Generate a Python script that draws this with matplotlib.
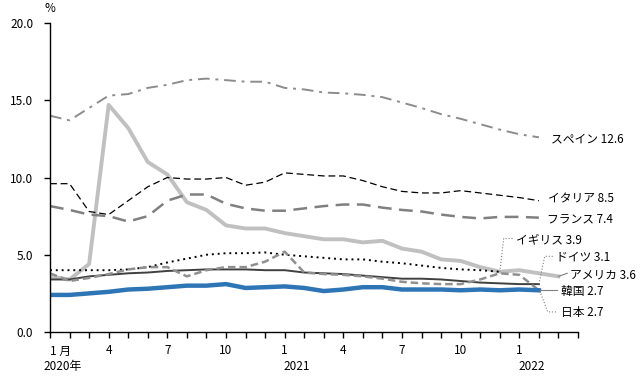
import matplotlib
matplotlib.use("Agg")
import matplotlib.pyplot as plt

plt.rcParams['font.family'] = ['Noto Sans CJK JP', 'DejaVu Sans']
plt.rcParams['font.size'] = 8.5

# 月次（2020年1月 = 0）
spain = [14.0, 13.7, 14.5, 15.3, 15.4, 15.8, 16.0, 16.3, 16.4, 16.3, 16.2, 16.2, 15.8,
         15.7, 15.5, 15.45, 15.35, 15.2, 14.85, 14.5, 14.1, 13.8, 13.45, 13.1, 12.8, 12.6]
italy = [9.6, 9.6, 7.8, 7.6, 8.5, 9.4, 10.0, 9.9, 9.9, 10.0, 9.5, 9.7, 10.3,
         10.2, 10.1, 10.1, 9.8, 9.4, 9.1, 9.0, 9.0, 9.15, 9.0, 8.85, 8.7, 8.5]
france = [8.15, 7.9, 7.6, 7.5, 7.15, 7.5, 8.5, 8.9, 8.9, 8.3, 8.0, 7.85, 7.85,
          8.0, 8.15, 8.25, 8.25, 8.05, 7.9, 7.8, 7.6, 7.45, 7.35, 7.45, 7.45, 7.4]
usa = [3.6, 3.4, 4.4, 14.7, 13.2, 11.0, 10.2, 8.4, 7.9, 6.9, 6.7, 6.7, 6.4,
       6.2, 6.0, 6.0, 5.8, 5.9, 5.4, 5.2, 4.7, 4.6, 4.2, 3.9, 4.0, 3.8, 3.6]
uk = [4.0, 4.0, 4.0, 4.0, 4.05, 4.2, 4.5, 4.75, 5.0, 5.1, 5.1, 5.15, 5.0,
      4.9, 4.8, 4.7, 4.7, 4.55, 4.45, 4.3, 4.15, 4.05, 4.0, 3.9]
germany = [3.4, 3.4, 3.6, 3.7, 3.8, 3.85, 3.95, 4.0, 4.05, 4.05, 4.05, 4.0, 4.0,
           3.85, 3.8, 3.75, 3.65, 3.55, 3.45, 3.45, 3.4, 3.3, 3.2, 3.15, 3.1, 3.1]
korea = [3.8, 3.3, 3.5, 3.75, 4.05, 4.2, 4.2, 3.6, 4.0, 4.2, 4.2, 4.55, 5.2,
         3.85, 3.75, 3.7, 3.6, 3.45, 3.25, 3.15, 3.1, 3.1, 3.4, 3.8, 3.7, 2.7]
japan = [2.4, 2.4, 2.5, 2.6, 2.75, 2.8, 2.9, 3.0, 3.0, 3.1, 2.85, 2.9, 2.95,
         2.85, 2.65, 2.75, 2.9, 2.9, 2.75, 2.75, 2.75, 2.7, 2.75, 2.7, 2.75, 2.7]

month_ticks = list(range(0, 28, 3))
month_labels = ['1 月', '4', '7', '10', '1', '4', '7', '10', '1', '']
year_labels = ['2020年', '2021', '2022']
year_months = [0, 12, 24]

fig = plt.figure(figsize=(6.43, 3.79), dpi=100)
ax = fig.add_axes([50 / 643, 47 / 379, 528 / 643, 309 / 379])

def xs(vals):
    return list(range(len(vals)))

ax.plot(xs(usa), usa, color='#c0c0c0', lw=2.8, solid_joinstyle='round')
ax.plot(xs(spain), spain, color='#8c8c8c', lw=1.4, dashes=(6, 3, 1.5, 3))
ax.plot(xs(italy), italy, color='black', lw=0.9, dashes=(5.5, 3))
ax.plot(xs(france), france, color='#808080', lw=1.8, dashes=(5.5, 3))
ax.plot(xs(uk), uk, color='black', lw=1.4, dashes=(1, 2))
ax.plot(xs(germany), germany, color='#404040', lw=1.4)
ax.plot(xs(korea), korea, color='#909090', lw=1.8, dashes=(3, 1.6))
ax.plot(xs(japan), japan, color='#2e75b6', lw=3.2)

ax.set_xlim(0, 27)
ax.set_ylim(0, 20)
ax.set_yticks([0, 5, 10, 15, 20])
ax.set_yticklabels(['0.0', '5.0', '10.0', '15.0', '20.0'])
ax.set_xticks(range(28), minor=True)
ax.set_xticks(month_ticks)
ax.set_xticklabels(month_labels)
ax.get_xticklabels()[0].set_horizontalalignment('left')
ax.tick_params(axis='x', which='both', length=4, width=1, pad=5, direction='out')
ax.tick_params(axis='y', length=4, width=1, pad=8, direction='out')
for s in ['top', 'right']:
    ax.spines[s].set_visible(False)
for s in ['left', 'bottom']:
    ax.spines[s].set_linewidth(1)

for m, lab in zip(year_months, year_labels):
    ax.annotate(lab, xy=(m, 0), xycoords=('data', 'axes fraction'),
                xytext=(9, -25), textcoords='offset points', ha='center', va='center')

ax.annotate('%', xy=(0, 1), xycoords='axes fraction', xytext=(0, 6),
            textcoords='offset points', ha='center', va='bottom')

# ラベルと引出線
lead = '#808080'
ax.text(25.6, 12.5, 'スペイン 12.6', va='center')
ax.text(25.45, 8.6, 'イタリア 8.5', va='center')
ax.text(25.4, 7.3, 'フランス 7.4', va='center')

ax.plot([23.0, 23.2, 23.75], [3.9, 6.05, 6.05], color=lead, lw=0.8, ls=':', clip_on=False)
ax.text(23.85, 6.0, 'イギリス 3.9', va='center')

ax.plot([25.0, 25.3, 25.75], [3.1, 4.9, 4.9], color=lead, lw=0.8, ls=':', clip_on=False)
ax.text(25.9, 4.85, 'ドイツ 3.1', va='center')

ax.plot([26.0, 26.45], [3.6, 3.8], color=lead, lw=0.8, clip_on=False)
ax.text(26.6, 3.7, 'アメリカ 3.6', va='center')

ax.plot([25.05, 25.95], [2.7, 2.7], color=lead, lw=0.8, clip_on=False)
ax.text(26.15, 2.65, '韓国 2.7', va='center')

ax.plot([25.05, 25.45, 25.95], [2.65, 1.3, 1.3], color=lead, lw=0.8, ls=':', clip_on=False)
ax.text(26.15, 1.25, '日本 2.7', va='center')

fig.savefig('out.png', dpi=100)
